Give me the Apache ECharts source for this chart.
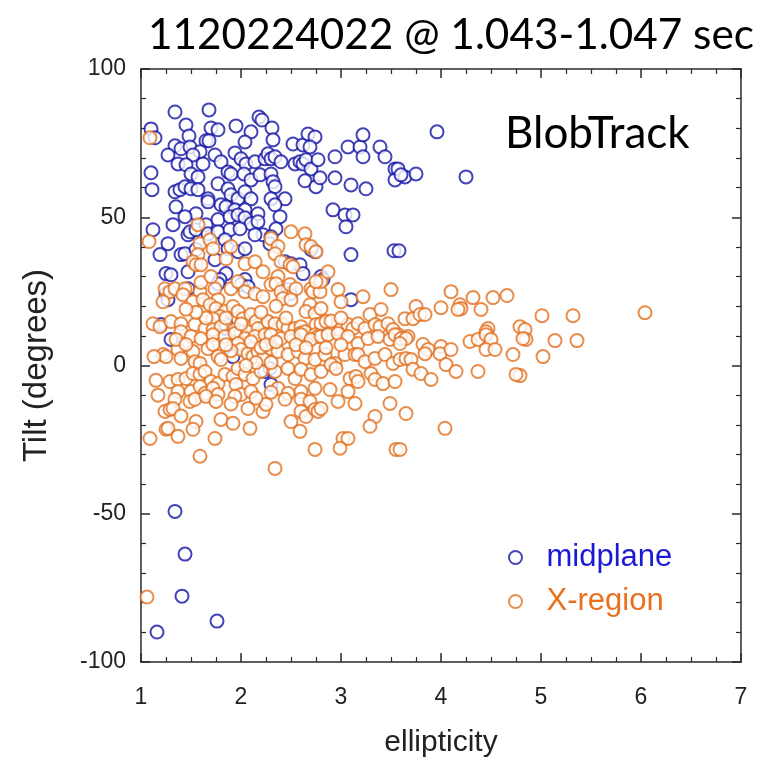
<!DOCTYPE html>
<html><head><meta charset="utf-8">
<script src="https://cdn.jsdelivr.net/npm/echarts@6/dist/echarts.min.js"></script>
<style>html,body{margin:0;padding:0;background:#fff}#c{width:762px;height:771px}</style>
</head><body><div id="c"></div>
<script>
const titleText = '1120224022 @ 1.043-1.047 sec';
const annotationText = 'BlobTrack';
const xName = 'ellipticity';
const yName = 'Tilt (degrees)';
const xTicks = [1, 2, 3, 4, 5, 6, 7];
const yTicks = [-100, -50, 0, 50, 100];
const seriesNames = ['midplane', 'X-region'];

// [ellipticity, tilt]
const midplane = [
[1.34,85.5],[1.68,86.2],[2.18,83.8],[2.21,82.8],[1.10,79.8],[1.14,76.8],[1.45,81.1],[1.70,80.1],[1.77,79.5],[1.95,80.8],
[2.10,78.8],[1.48,77.4],[1.65,75.8],[1.68,75.8],[2.04,75.4],[1.34,74.1],[1.27,71.0],[1.40,73.1],[1.49,73.7],[1.59,72.1],
[1.52,71.0],[1.74,71.0],[1.94,71.7],[2.00,69.7],[2.05,68.0],[2.14,68.7],[2.24,69.7],[1.10,65.0],[1.11,59.3],[1.37,68.0],
[1.45,67.7],[1.50,64.6],[1.62,68.0],[1.57,63.6],[1.80,68.7],[1.87,65.3],[1.90,64.6],[2.03,64.6],[2.10,62.6],[2.19,64.3],
[1.34,58.6],[1.39,59.3],[1.44,60.3],[1.50,59.6],[1.57,59.3],[1.67,56.2],[1.77,61.3],[1.87,59.6],[1.90,57.6],[1.97,56.2],
[2.04,58.6],[2.10,56.2],[1.35,53.5],[1.55,51.2],[1.67,55.2],[1.80,54.2],[1.85,53.5],[1.94,52.5],[2.04,52.5],[2.17,51.2],
[2.31,80.1],[2.32,76.1],[2.27,71.4],[2.30,69.7],[2.34,70.4],[2.40,68.7],[2.52,74.7],[2.62,74.4],[2.67,78.1],[2.74,77.1],
[2.69,73.7],[2.54,68.0],[2.59,68.7],[2.62,68.0],[2.65,69.4],[2.70,66.3],[2.77,69.4],[2.94,70.4],[3.07,73.7],[3.19,73.7],
[3.22,77.8],[3.22,70.4],[3.39,73.7],[3.44,70.4],[3.54,66.3],[3.54,62.6],[2.30,64.6],[2.32,62.0],[2.34,60.3],[2.30,56.2],
[2.44,56.2],[2.34,54.2],[2.64,62.3],[2.75,60.3],[2.79,63.3],[2.94,63.3],[3.10,60.9],[3.25,59.6],[2.92,52.5],[3.04,50.8],
[3.12,50.8],[2.39,50.2],[3.96,78.8],[3.57,66.3],[3.64,63.6],[3.75,64.6],[3.60,64.3],[4.25,63.6],[3.53,38.7],[3.58,38.7],
[1.44,50.2],[1.32,47.5],[1.12,45.8],[1.27,41.1],[1.19,37.4],[1.47,44.1],[1.49,45.1],[1.55,45.8],[1.65,47.5],[1.77,49.2],
[1.89,50.2],[1.97,50.8],[2.04,49.8],[2.10,47.8],[2.17,48.5],[2.22,44.1],[2.14,44.1],[1.67,44.4],[1.77,45.1],[1.89,45.8],
[1.99,46.1],[1.40,37.4],[1.44,37.7],[1.55,39.1],[1.74,35.7],[1.84,42.4],[1.87,39.4],[1.97,38.4],[2.04,39.4],[1.25,31.0],
[1.30,30.6],[1.47,31.6],[1.47,25.9],[1.85,31.0],[1.79,29.0],[1.77,27.6],[2.04,29.0],[2.00,27.3],[2.07,26.6],[1.25,24.2],
[1.27,22.2],[1.20,13.8],[1.84,12.5],[1.85,13.8],[2.35,46.1],[2.30,43.4],[2.29,41.1],[3.05,46.8],[2.74,38.4],[2.70,39.1],
[3.10,37.4],[2.44,35.0],[2.50,34.3],[2.59,34.0],[2.62,31.0],[2.80,30.0],[2.82,29.0],[2.47,25.6],[2.49,24.2],[3.10,22.2],
[1.30,8.8],[1.92,3.0],[2.24,-2.0],[2.29,-1.0],[2.30,-6.4],[1.34,-49.2],[1.44,-63.6],[1.41,-77.8],[1.76,-86.2],[1.16,-89.9]
];

const xRegion = [
[1.09,76.8],[1.08,41.8],[1.57,47.5],[1.59,41.1],[1.57,37.4],[1.52,35.0],[1.55,34.0],[1.60,34.0],[1.69,42.4],[1.72,39.4],
[1.85,36.0],[1.90,40.1],[2.04,34.3],[2.14,35.0],[2.22,31.6],[1.24,25.9],[1.29,24.9],[1.34,25.9],[1.44,25.9],[1.59,24.9],
[1.74,25.9],[1.22,21.5],[1.42,23.9],[1.52,21.5],[1.62,22.2],[1.90,25.9],[1.97,28.3],[2.04,24.9],[2.14,24.2],[2.22,23.2],
[1.77,22.2],[1.69,20.5],[1.75,19.2],[1.84,18.2],[1.79,16.5],[1.72,15.8],[1.92,19.9],[1.97,18.2],[2.02,15.8],[2.10,17.2],
[2.15,14.8],[2.24,13.1],[1.12,14.1],[1.19,13.1],[1.30,14.8],[1.40,14.1],[1.54,13.8],[1.64,12.5],[1.72,12.1],[1.80,13.1],
[1.94,12.1],[2.00,11.4],[2.07,11.4],[2.17,12.5],[2.50,45.1],[2.64,44.4],[2.30,42.8],[2.37,40.1],[2.34,37.7],[2.40,35.0],
[2.65,40.7],[2.70,40.1],[2.75,38.4],[2.49,34.0],[2.52,33.3],[2.37,30.0],[2.30,27.3],[2.35,27.6],[2.40,24.9],[2.49,27.3],
[2.55,25.9],[2.42,22.6],[2.50,22.2],[2.70,25.9],[2.72,24.9],[2.79,24.9],[2.80,28.3],[2.87,31.6],[2.75,28.3],[2.69,20.5],
[2.65,18.2],[2.74,17.5],[2.80,19.2],[2.97,25.6],[3.00,21.5],[3.22,23.2],[3.50,25.6],[2.27,14.8],[2.34,14.1],[2.42,13.8],
[2.47,12.5],[2.54,12.5],[2.60,13.1],[2.75,13.8],[2.80,14.1],[2.85,14.8],[2.99,12.1],[3.07,13.8],[3.12,12.5],[3.17,14.1],
[3.24,12.5],[3.29,17.2],[3.34,13.8],[3.40,18.9],[3.39,13.1],[3.47,14.1],[3.52,12.1],[2.59,10.8],[2.64,11.4],[2.74,10.4],
[2.77,9.8],[4.10,24.9],[4.00,19.5],[4.19,20.5],[4.20,19.2],[4.17,18.9],[4.32,22.9],[4.40,18.9],[4.52,22.9],[4.66,23.6],
[3.75,19.9],[3.64,15.8],[3.72,15.8],[3.79,17.2],[3.84,17.2],[4.47,12.5],[4.45,11.4],[4.79,13.1],[4.84,12.1],[3.57,10.4],
[3.67,9.8],[5.01,16.8],[5.32,16.8],[6.04,17.8],[4.85,8.8],[5.14,8.4],[5.36,8.4],[5.02,3.0],[4.79,-3.4],[1.40,11.4],
[1.50,9.8],[1.60,9.1],[1.72,10.4],[1.84,9.8],[1.94,10.8],[2.04,9.1],[2.14,9.8],[2.24,10.4],[1.22,3.7],[1.25,3.0],
[1.37,5.4],[1.40,2.4],[1.52,4.7],[1.54,1.3],[1.59,0.7],[1.67,5.7],[1.72,7.1],[1.77,3.0],[1.80,2.0],[1.97,7.4],
[2.00,5.4],[2.07,4.0],[2.12,3.0],[2.17,4.7],[2.22,2.4],[1.35,8.8],[1.45,7.1],[1.29,-5.4],[1.37,-4.7],[1.45,-4.4],
[1.52,-2.7],[1.59,-3.0],[1.64,-2.0],[1.70,-5.4],[1.77,-6.1],[1.84,-3.0],[1.92,-3.7],[1.97,-1.0],[2.04,-3.0],[2.12,-4.4],
[2.20,-2.0],[1.37,-8.8],[1.50,-8.8],[1.59,-7.1],[1.64,-9.4],[1.72,-7.7],[1.77,-9.8],[1.95,-6.4],[2.00,-9.8],[2.10,-8.8],
[1.34,-11.4],[1.49,-12.1],[1.54,-11.4],[1.65,-10.4],[1.75,-12.1],[1.94,-10.4],[1.24,-15.5],[1.29,-14.8],[1.32,-14.5],[2.07,-14.5],
[2.22,-15.5],[2.25,-13.1],[1.55,-18.9],[1.52,-21.5],[1.80,-18.2],[1.92,-19.5],[2.09,-21.2],[1.09,-24.6],[1.25,-21.5],[1.27,-21.2],
[1.37,-23.9],[1.74,-24.6],[1.59,-30.6],[2.30,10.4],[2.40,9.1],[2.50,9.8],[2.60,10.4],[2.70,8.8],[2.80,9.8],[2.87,10.4],
[2.97,10.8],[3.07,9.8],[3.17,7.4],[3.27,9.1],[3.37,9.8],[3.49,8.8],[3.54,10.4],[2.30,5.7],[2.37,4.7],[2.47,3.7],
[2.57,4.7],[2.64,2.4],[2.74,2.0],[2.84,3.7],[2.94,0.7],[3.04,3.7],[3.14,3.7],[3.17,3.7],[3.24,1.3],[3.34,2.4],
[3.44,3.7],[3.52,0.7],[2.34,-2.0],[2.47,-1.0],[2.54,-4.4],[2.60,-1.3],[2.70,-3.0],[2.80,-2.0],[2.90,0.3],[2.95,-1.0],
[3.09,-4.4],[3.15,-3.7],[3.30,-2.7],[3.34,-4.7],[3.42,-6.1],[3.54,-5.4],[2.37,-7.7],[2.47,-9.4],[2.60,-8.8],[2.74,-7.7],
[2.89,-8.1],[3.07,-8.8],[3.17,-5.4],[2.44,-11.4],[2.60,-11.4],[2.69,-12.1],[2.97,-12.1],[3.14,-12.8],[3.49,-12.8],[2.60,-15.5],
[2.65,-17.2],[2.74,-14.8],[2.77,-15.5],[2.80,-14.5],[2.50,-18.9],[2.59,-22.2],[3.34,-17.2],[3.29,-20.5],[3.02,-24.6],[3.07,-24.6],
[2.99,-27.9],[2.74,-28.3],[3.55,-28.3],[2.34,-34.7],[3.60,9.1],[3.65,9.1],[3.59,7.4],[3.82,7.1],[3.87,5.4],[4.00,6.4],
[3.99,4.0],[4.10,5.4],[4.29,8.1],[4.37,8.8],[4.45,10.4],[4.50,8.8],[4.45,5.4],[4.54,5.4],[4.82,9.1],[3.59,2.0],
[3.65,2.4],[3.70,2.0],[3.72,-1.3],[3.80,-2.7],[3.90,-4.7],[3.84,4.0],[4.05,0.3],[4.15,-2.0],[4.37,-2.0],[4.72,3.7],
[4.75,-3.0],[3.65,-16.2],[4.04,-21.2],[3.59,-28.3],[1.06,-78.1],
[2.10,8.0],[2.20,6.0],[2.15,1.0],[2.05,0.0],[1.90,5.0],[1.85,7.0],[2.25,7.0],[2.30,1.0],[2.35,8.0],[2.00,14.0],
[1.85,16.0],[2.20,18.0],[2.35,20.0],[1.65,16.0],[1.55,18.0],[1.45,19.0],[1.60,28.0],[1.70,30.0],[2.45,16.0],[2.55,7.0],
[2.65,6.0],[2.85,6.0],[3.00,7.0],[2.90,15.0],[3.00,16.0],[1.90,-13.0],[2.15,-11.0],[2.30,-9.0],[1.40,-17.0],[1.15,-5.0],
[1.13,3.0],[1.17,-10.0]
];

const blue = '#1414a6';
const orange = '#e2701f';
const axisColor = '#2a2a2a';
const labelFont = 'Liberation Sans';

const chart = echarts.init(document.getElementById('c'), null, {renderer: 'canvas'});

function valueAxis(extra) {
  return Object.assign({
    type: 'value',
    axisLine: {show: true, onZero: false, lineStyle: {color: axisColor, width: 1.5}},
    axisTick: {show: true, inside: true, length: 9, lineStyle: {color: axisColor, width: 1.5}},
    minorTick: {show: true, length: 5, lineStyle: {color: axisColor, width: 1.2}},
    splitLine: {show: false},
    minorSplitLine: {show: false}
  }, extra);
}

const xLabelStyle = {fontSize: 23, fontFamily: labelFont, color: '#222', margin: 24};
const yLabelStyle = {fontSize: 23, fontFamily: labelFont, color: '#222', margin: 15};

chart.setOption({
  animation: false,
  backgroundColor: '#fff',
  grid: {left: 141, right: 21, top: 69, bottom: 109, containLabel: false},
  xAxis: [
    valueAxis({min: xTicks[0], max: xTicks[xTicks.length - 1], interval: 1, position: 'bottom',
      minorTick: {show: true, splitNumber: 4, length: 5, lineStyle: {color: axisColor, width: 1.2}},
      axisLabel: xLabelStyle,
      name: xName, nameLocation: 'middle', nameGap: 66,
      nameTextStyle: {fontSize: 30, fontFamily: labelFont, color: '#222'}}),
    valueAxis({min: xTicks[0], max: xTicks[xTicks.length - 1], interval: 1, position: 'top',
      minorTick: {show: true, splitNumber: 4, length: 5, lineStyle: {color: axisColor, width: 1.2}},
      axisLabel: {show: false}})
  ],
  yAxis: [
    valueAxis({min: yTicks[0], max: yTicks[yTicks.length - 1], interval: 50, position: 'left',
      minorTick: {show: true, splitNumber: 5, length: 5, lineStyle: {color: axisColor, width: 1.2}},
      axisLabel: yLabelStyle,
      name: yName, nameLocation: 'middle', nameGap: 88, nameRotate: 90,
      nameTextStyle: {fontSize: 33, fontFamily: labelFont, color: '#222'}}),
    valueAxis({min: yTicks[0], max: yTicks[yTicks.length - 1], interval: 50, position: 'right',
      minorTick: {show: true, splitNumber: 5, length: 5, lineStyle: {color: axisColor, width: 1.2}},
      axisLabel: {show: false}})
  ],
  legend: {
    orient: 'vertical', left: 503, top: 537, itemWidth: 52, itemHeight: 13, itemGap: 13,
    data: [
      {name: seriesNames[0], textStyle: {color: '#1a1ad4'}},
      {name: seriesNames[1], textStyle: {color: '#e8701e'}}
    ],
    textStyle: {fontSize: 31, fontFamily: labelFont}
  },
  graphic: [
    {type: 'text', left: 148, top: 14, style: {text: titleText, font: '42.3px Lato', fill: '#000'}},
    {type: 'text', left: 505, top: 112, style: {text: annotationText, font: '44px Lato', fill: '#000'}}
  ],
  series: [
    {name: seriesNames[0], type: 'scatter', xAxisIndex: 0, yAxisIndex: 0, data: midplane,
      symbol: 'emptyCircle', symbolSize: 13,
      itemStyle: {color: blue, borderColor: blue, borderWidth: 1.8}},
    {name: seriesNames[1], type: 'scatter', xAxisIndex: 0, yAxisIndex: 0, data: xRegion,
      symbol: 'emptyCircle', symbolSize: 13,
      itemStyle: {color: orange, borderColor: orange, borderWidth: 1.8}}
  ]
});
</script>
</body></html>
